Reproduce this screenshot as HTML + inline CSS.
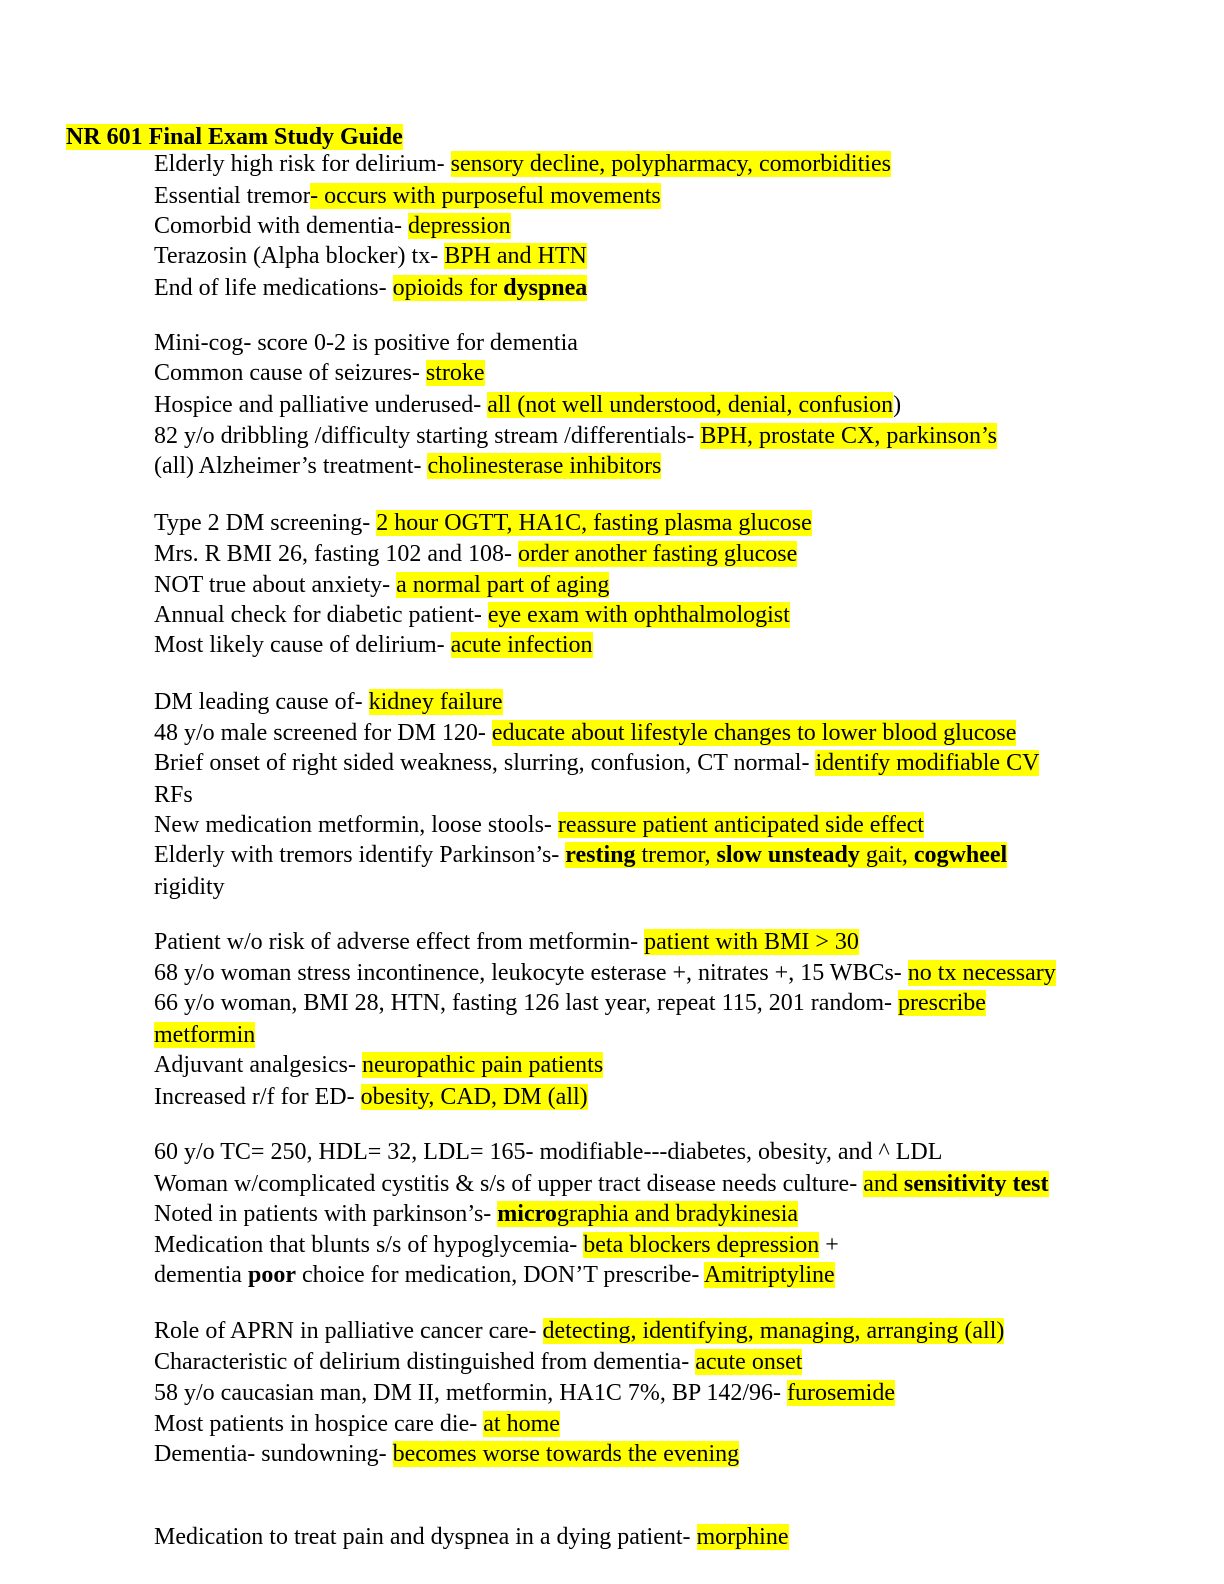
<!DOCTYPE html>
<html><head><meta charset="utf-8"><style>
body{margin:0;width:1224px;height:1584px;background:#fff;position:relative;font-family:"Liberation Serif",serif;font-size:24px;color:#000}
div{position:absolute;left:154px;height:25px;line-height:25px;white-space:nowrap;margin-top:3px}
span.h{background:#ffff00}
</style></head><body>
<div style="left:66px;top:122px"><span class="h"><b>NR 601 Final Exam Study Guide</b></span></div>
<div style="top:149px">Elderly high risk for delirium- <span class="h">sensory decline, polypharmacy, comorbidities</span></div>
<div style="top:180.6px">Essential tremor<span class="h">- occurs with purposeful movements</span></div>
<div style="top:210.9px">Comorbid with dementia- <span class="h">depression</span></div>
<div style="top:241.2px">Terazosin (Alpha blocker) tx- <span class="h">BPH and HTN</span></div>
<div style="top:272.5px">End of life medications- <span class="h">opioids for <b>dyspnea</b></span></div>

<div style="top:328px">Mini-cog- score 0-2 is positive for dementia</div>
<div style="top:358.4px">Common cause of seizures- <span class="h">stroke</span></div>
<div style="top:389.7px">Hospice and palliative underused- <span class="h">all (not well understood, denial, confusion</span>)</div>
<div style="top:421px">82 y/o dribbling /difficulty starting stream /differentials- <span class="h">BPH, prostate CX, parkinson’s</span></div>
<div style="top:451.3px">(all) Alzheimer’s treatment- <span class="h">cholinesterase inhibitors</span></div>

<div style="top:507.9px">Type 2 DM screening- <span class="h">2 hour OGTT, HA1C, fasting plasma glucose</span></div>
<div style="top:539.2px">Mrs. R BMI 26, fasting 102 and 108- <span class="h">order another fasting glucose</span></div>
<div style="top:569.5px">NOT true about anxiety- <span class="h">a normal part of aging</span></div>
<div style="top:599.8px">Annual check for diabetic patient- <span class="h">eye exam with ophthalmologist</span></div>
<div style="top:630.1px">Most likely cause of delirium- <span class="h">acute infection</span></div>

<div style="top:686.7px">DM leading cause of- <span class="h">kidney failure</span></div>
<div style="top:718px">48 y/o male screened for DM 120- <span class="h">educate about lifestyle changes to lower blood glucose</span></div>
<div style="top:748.3px">Brief onset of right sided weakness, slurring, confusion, CT normal- <span class="h">identify modifiable CV</span></div>
<div style="top:779.6px">RFs</div>
<div style="top:809.9px">New medication metformin, loose stools- <span class="h">reassure patient anticipated side effect</span></div>
<div style="top:840.3px">Elderly with tremors identify Parkinson’s- <span class="h"><b>resting</b> tremor, <b>slow unsteady</b> gait, <b>cogwheel</b></span></div>
<div style="top:871.6px">rigidity</div>

<div style="top:927.2px">Patient w/o risk of adverse effect from metformin- <span class="h">patient with BMI &gt; 30</span></div>
<div style="top:957.5px">68 y/o woman stress incontinence, leukocyte esterase +, nitrates +, 15 WBCs- <span class="h">no tx necessary</span></div>
<div style="top:987.8px">66 y/o woman, BMI 28, HTN, fasting 126 last year, repeat 115, 201 random- <span class="h">prescribe</span></div>
<div style="top:1020px"><span class="h">metformin</span></div>
<div style="top:1050.3px">Adjuvant analgesics- <span class="h">neuropathic pain patients</span></div>
<div style="top:1081.6px">Increased r/f for ED- <span class="h">obesity, CAD, DM (all)</span></div>

<div style="top:1137.2px">60 y/o TC= 250, HDL= 32, LDL= 165- modifiable---diabetes, obesity, and ^ LDL</div>
<div style="top:1168.5px">Woman w/complicated cystitis &amp; s/s of upper tract disease needs culture- <span class="h">and <b>sensitivity test</b></span></div>
<div style="top:1198.8px">Noted in patients with parkinson’s- <span class="h"><b>micro</b>graphia and bradykinesia</span></div>
<div style="top:1230px">Medication that blunts s/s of hypoglycemia- <span class="h">beta blockers depression</span> +</div>
<div style="top:1260.4px">dementia <b>poor</b> choice for medication, DON’T prescribe- <span class="h">Amitriptyline</span></div>

<div style="top:1315.9px">Role of APRN in palliative cancer care- <span class="h">detecting, identifying, managing, arranging (all)</span></div>
<div style="top:1347.2px">Characteristic of delirium distinguished from dementia- <span class="h">acute onset</span></div>
<div style="top:1377.5px">58 y/o caucasian man, DM II, metformin, HA1C 7%, BP 142/96- <span class="h">furosemide</span></div>
<div style="top:1408.9px">Most patients in hospice care die- <span class="h">at home</span></div>
<div style="top:1439.2px">Dementia- sundowning- <span class="h">becomes worse towards the evening</span></div>

<div style="top:1522px">Medication to treat pain and dyspnea in a dying patient- <span class="h">morphine</span></div>
</body></html>
